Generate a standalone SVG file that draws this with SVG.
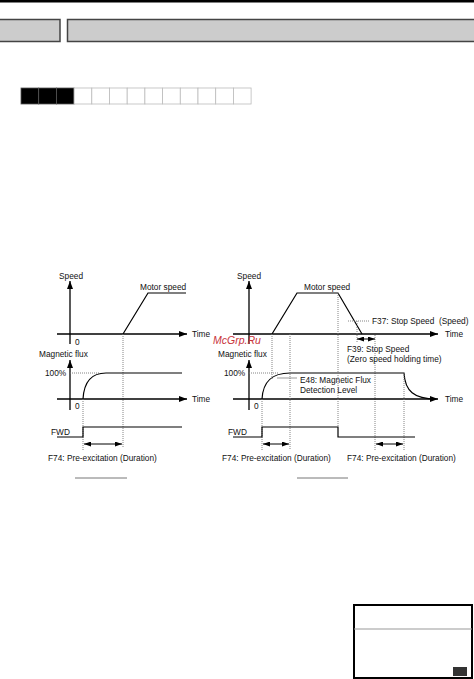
<svg xmlns="http://www.w3.org/2000/svg" width="474" height="679" viewBox="0 0 474 679">
<defs>
<marker id="ah" viewBox="0 0 8 6" refX="8" refY="3" markerWidth="8" markerHeight="6" markerUnits="userSpaceOnUse" orient="auto-start-reverse"><path d="M0,0 L8,3 L0,6 z" fill="#000"/></marker>
<marker id="sh" viewBox="0 0 7 5" refX="7" refY="2.5" markerWidth="7" markerHeight="5" markerUnits="userSpaceOnUse" orient="auto-start-reverse"><path d="M0,0 L7,2.5 L0,5 z" fill="#000"/></marker>
</defs>
<style>
text{font-family:"Liberation Sans",Arial,sans-serif;font-size:8.3px;fill:#111}
.ax{stroke:#000;stroke-width:1.3;fill:none;marker-end:url(#ah)}
.ln{stroke:#000;stroke-width:1.2;fill:none}
.dt{stroke:#777;stroke-width:0.9;stroke-dasharray:1,1;fill:none}
.da{stroke:#000;stroke-width:1;fill:none;marker-start:url(#sh);marker-end:url(#sh)}
.ul{stroke:#777;stroke-width:1}
.cell{fill:#fff;stroke:#bbb;stroke-width:0.8}
.blk{fill:#000;stroke:#555;stroke-width:0.8}
.hdr{fill:#ccc;stroke:#444;stroke-width:1.5}
</style>
<rect width="474" height="679" fill="#fff"/>
<g id="header">
<rect x="0" y="0" width="474" height="2.5" fill="#000"/>
<rect class="hdr" x="-1" y="19.5" width="61" height="22"/>
<rect class="hdr" x="67.5" y="19.5" width="410" height="22"/>
</g>
<g id="cells">
<rect class="blk" x="21" y="88" width="17.7" height="16"/>
<rect class="blk" x="38.7" y="88" width="17.7" height="16"/>
<rect class="blk" x="56.4" y="88" width="17.7" height="16"/>
<rect class="cell" x="74.1" y="88" width="17.7" height="16"/>
<rect class="cell" x="91.8" y="88" width="17.7" height="16"/>
<rect class="cell" x="109.5" y="88" width="17.7" height="16"/>
<rect class="cell" x="127.2" y="88" width="17.7" height="16"/>
<rect class="cell" x="144.9" y="88" width="17.7" height="16"/>
<rect class="cell" x="162.6" y="88" width="17.7" height="16"/>
<rect class="cell" x="180.3" y="88" width="17.7" height="16"/>
<rect class="cell" x="198" y="88" width="17.7" height="16"/>
<rect class="cell" x="215.7" y="88" width="17.7" height="16"/>
<rect class="cell" x="233.4" y="88" width="17.7" height="16"/>
</g>
<g id="left-chart">
<line class="ax" x1="70" y1="344" x2="70" y2="281"/>
<line class="ax" x1="57" y1="334" x2="187" y2="334"/>
<text x="59" y="279">Speed</text>
<text x="192" y="337">Time</text>
<text x="75" y="345">0</text>
<polyline class="ln" points="123,334 148,293 186,293"/>
<text x="140" y="290">Motor speed</text>
<line class="dt" x1="123" y1="334" x2="123" y2="448"/>
<text x="39" y="357">Magnetic flux</text>
<line class="ax" x1="70" y1="410" x2="70" y2="360"/>
<text x="45" y="376">100%</text>
<line class="dt" x1="70" y1="373" x2="100" y2="373"/>
<path class="ln" d="M83,399 C84,381 92,373 106,373 L182,373"/>
<line class="ax" x1="57" y1="399" x2="187" y2="399"/>
<text x="192" y="402">Time</text>
<text x="75" y="409">0</text>
<line class="dt" x1="83" y1="399" x2="83" y2="450"/>
<text x="51" y="435">FWD</text>
<polyline class="ln" points="57,437 83,437 83,427 182,427"/>
<line class="da" x1="84" y1="444" x2="122" y2="444"/>
<text x="48" y="461">F74: Pre-excitation (Duration)</text>
<line class="ul" x1="75" y1="478" x2="127" y2="478"/>
</g>
<g id="right-chart">
<line class="ax" x1="249" y1="344" x2="249" y2="281"/>
<line class="ax" x1="233" y1="334" x2="438" y2="334"/>
<text x="237" y="279">Speed</text>
<text x="445" y="337">Time</text>
<polyline class="ln" points="272,334 297,293 338,293 362,334"/>
<text x="304" y="290">Motor speed</text>
<line class="dt" x1="348" y1="321" x2="370" y2="321"/>
<text x="372" y="324" xml:space="preserve" style="white-space:pre">F37: Stop Speed  (Speed)</text>
<line class="dt" x1="357" y1="321" x2="357" y2="343"/>
<line class="dt" x1="375" y1="335" x2="375" y2="450"/>
<line class="da" x1="357" y1="339" x2="375" y2="339"/>
<text x="347" y="352">F39: Stop Speed</text>
<text x="347" y="362">(Zero speed holding time)</text>
<text x="218" y="357">Magnetic flux</text>
<text x="213" y="344" style="font-size:10.5px;font-style:italic;fill:#c8323a">McGrp.Ru</text>
<line class="ax" x1="249" y1="410" x2="249" y2="360"/>
<text x="224" y="376">100%</text>
<line class="dt" x1="249" y1="373" x2="278" y2="373"/>
<path class="ln" d="M262,399 C263,381 272,373 290,373 L404,373 C405,391 414,399 436,399"/>
<line class="ax" x1="233" y1="399" x2="438" y2="399"/>
<text x="445" y="402">Time</text>
<text x="254" y="409">0</text>
<line x1="277" y1="378" x2="297" y2="378" stroke="#999" stroke-width="1"/>
<text x="300" y="383">E48: Magnetic Flux</text>
<text x="300" y="393">Detection Level</text>
<line class="dt" x1="272" y1="334" x2="272" y2="380"/>
<line class="dt" x1="262" y1="399" x2="262" y2="450"/>
<line class="dt" x1="290" y1="334" x2="290" y2="450"/>
<line class="dt" x1="338" y1="293" x2="338" y2="427"/>
<line class="dt" x1="404" y1="373" x2="404" y2="450"/>
<text x="228" y="435">FWD</text>
<polyline class="ln" points="233,437 262,437 262,427 338,427 338,437 415,437"/>
<line class="da" x1="263" y1="444" x2="289" y2="444"/>
<line class="da" x1="376" y1="444" x2="403" y2="444"/>
<text x="222" y="461">F74: Pre-excitation (Duration)</text>
<text x="347" y="461">F74: Pre-excitation (Duration)</text>
<line class="ul" x1="297" y1="478" x2="348" y2="478"/>
</g>
<g id="corner-box">
<rect x="354" y="605" width="118" height="73" fill="none" stroke="#000" stroke-width="2"/>
<line x1="354" y1="629" x2="472" y2="629" stroke="#999" stroke-width="1"/>
<rect x="453" y="667" width="14" height="9" fill="#333"/>
</g>
</svg>
